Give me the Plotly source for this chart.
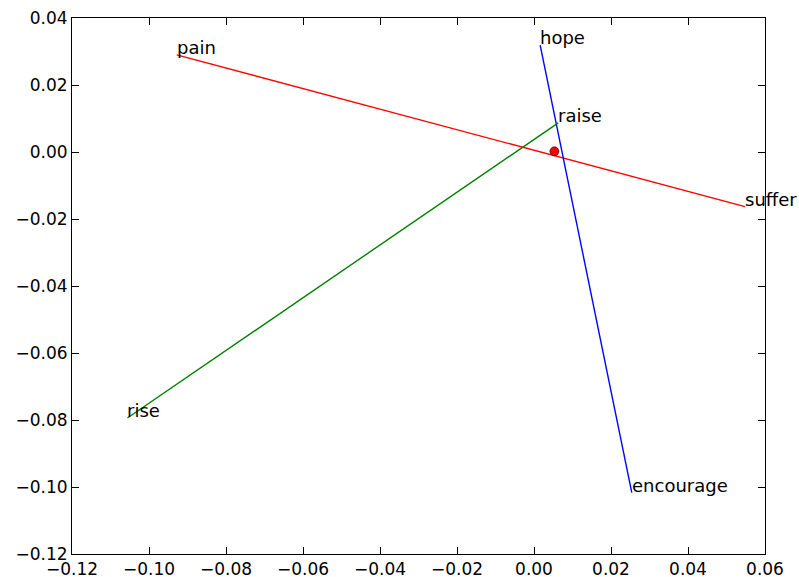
import plotly.graph_objects as go

# Word pairs: start word/end word with 2D coordinates
words_a = ["pain", "hope", "rise"]
xa = [-0.0928, 0.0016, -0.1056]
ya = [0.0290, 0.0319, -0.0794]
words_b = ["suffer", "encourage", "raise"]
xb = [0.0548, 0.0254, 0.0063]
yb = [-0.0163, -0.1017, 0.0087]
colors = ["#ff0000", "#0000ff", "#008000"]

center_x = [0.0053]
center_y = [0.0002]

x_ticks = [-0.12, -0.10, -0.08, -0.06, -0.04, -0.02, 0.00, 0.02, 0.04, 0.06]
y_ticks = [-0.12, -0.10, -0.08, -0.06, -0.04, -0.02, 0.00, 0.02, 0.04]

fig = go.Figure()
for i in range(len(words_a)):
    fig.add_trace(go.Scatter(x=[xa[i], xb[i]], y=[ya[i], yb[i]], mode="lines",
                             line=dict(color=colors[i], width=1.4), showlegend=False,
                             hoverinfo="skip"))
fig.add_trace(go.Scatter(x=center_x, y=center_y, mode="markers",
                         marker=dict(color="#ff0000", size=9, line=dict(color="black", width=0.6)),
                         showlegend=False))

for w, x, y in zip(words_a + words_b, xa + xb, ya + yb):
    fig.add_annotation(x=x, y=y, text=w, showarrow=False, xanchor="left", yanchor="bottom",
                       xshift=-2, yshift=-5,
                       font=dict(family="DejaVu Sans", size=18, color="black"))

axis_common = dict(showgrid=False, zeroline=False, showline=True, linecolor="black", linewidth=1,
                   mirror="ticks", ticks="inside", ticklen=7, tickcolor="black", tickwidth=1,
                   automargin=False,
                   tickfont=dict(family="DejaVu Sans", size=17, color="black"))
fig.update_xaxes(range=[-0.12, 0.06], tickvals=x_ticks, tickformat=".2f", **axis_common)
fig.update_yaxes(range=[-0.12, 0.04], tickvals=y_ticks, tickformat=".2f", **axis_common)

fig.update_layout(width=799, height=577, plot_bgcolor="white", paper_bgcolor="white",
                  margin=dict(l=72, r=34, t=18, b=23))
fig.write_html("out.html", config={"displayModeBar": False},
               post_script="document.body.style.margin='0';document.body.style.overflow='hidden';")
